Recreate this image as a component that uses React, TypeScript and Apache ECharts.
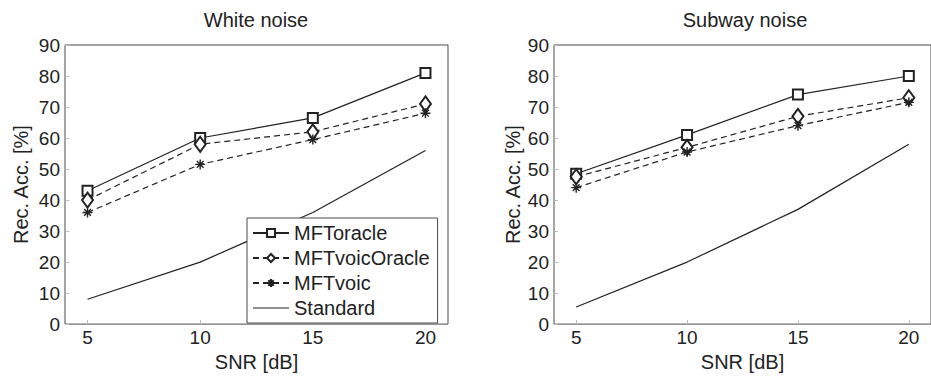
import React, { useEffect, useRef } from "react";
import * as echarts from "echarts";

// SNR levels on the x axis
const snr = [5, 10, 15, 20];
const xTicks = [5, 10, 15, 20];

// Recognition accuracy [%] — white noise
const whiteOracle = [43, 60, 66.5, 81];
const whiteVoicOracle = [40, 58, 62, 71];
const whiteVoic = [36, 51.5, 59.5, 68];
const whiteStandard = [8, 20, 36, 56];

// Recognition accuracy [%] — subway noise
const subwayOracle = [48.5, 61, 74, 80];
const subwayVoicOracle = [47.5, 57, 67, 73];
const subwayVoic = [44, 55.5, 64, 71.5];
const subwayStandard = [5.5, 20, 37, 58];

const panelTitles = ["White noise", "Subway noise"];
const seriesNames = ["MFToracle", "MFTvoicOracle", "MFTvoic", "Standard"];

const INK = "#222";
const FRAME = "#4a4a4a";
const FONT = "Liberation Sans, Arial, Helvetica, sans-serif";
const ASTERISK = "path://M5 0L5 10M0 5L10 5M1.6 1.6L8.4 8.4M8.4 1.6L1.6 8.4";
// plain line sample for the marker-less series in the legend
const PLAIN_LINE = "path://M0 0L36 0L36 1.2L0 1.2Z";

function pairs(values: number[]) {
  return snr.map((x, i) => [x, values[i]]);
}

function panelSeries(idx: number, oracle: number[], voicOracle: number[], voic: number[], standard: number[]) {
  const common = {
    type: "line" as const,
    xAxisIndex: idx,
    yAxisIndex: idx,
    showSymbol: true,
  };
  return [
    {
      ...common,
      name: seriesNames[0],
      data: pairs(oracle),
      symbol: "emptyRect",
      symbolSize: 10,
      lineStyle: { color: INK, width: 1.2, type: "solid" },
      itemStyle: { color: INK, borderColor: INK, borderWidth: 1 },
    },
    {
      ...common,
      name: seriesNames[1],
      data: pairs(voicOracle),
      symbol: "emptyDiamond",
      symbolSize: [11, 15],
      lineStyle: { color: INK, width: 1.2, type: [6, 4] },
      itemStyle: { color: INK, borderColor: INK, borderWidth: 1 },
    },
    {
      ...common,
      name: seriesNames[2],
      data: pairs(voic),
      symbol: ASTERISK,
      symbolSize: 10,
      lineStyle: { color: INK, width: 1.2, type: [6, 4] },
      itemStyle: { color: INK, borderColor: INK, borderWidth: 1.4 },
    },
    {
      ...common,
      name: seriesNames[3],
      data: pairs(standard),
      symbol: "none",
      lineStyle: { color: INK, width: 1.2, type: "solid" },
      itemStyle: { color: INK },
    },
  ];
}

function xAxis(idx: number) {
  return {
    type: "value" as const,
    gridIndex: idx,
    min: 4,
    max: 21,
    name: "SNR [dB]",
    nameLocation: "middle" as const,
    nameGap: 27,
    nameTextStyle: { color: INK, fontSize: 20, fontFamily: FONT },
    axisLine: { show: false },
    axisTick: { show: true, inside: true, length: 4, customValues: xTicks, lineStyle: { color: "#bbb" } },
    axisLabel: { customValues: xTicks, color: INK, fontSize: 19, fontFamily: FONT, margin: 4 },
    splitLine: { show: false },
  };
}

function yAxis(idx: number, gap: number) {
  return {
    type: "value" as const,
    gridIndex: idx,
    min: 0,
    max: 90,
    interval: 10,
    name: "Rec. Acc. [%]",
    nameLocation: "middle" as const,
    nameGap: gap,
    nameTextStyle: { color: INK, fontSize: 20, fontFamily: FONT },
    axisLine: { show: false },
    axisTick: { show: true, inside: true, length: 4, lineStyle: { color: "#bbb" } },
    axisLabel: { color: INK, fontSize: 19, fontFamily: FONT, margin: 5 },
    splitLine: { show: false },
  };
}

export default function App() {
  const ref = useRef<HTMLDivElement>(null);

  useEffect(() => {
    if (!ref.current) return;
    const chart = echarts.init(ref.current, undefined, { renderer: "svg" });
    chart.setOption({
      animation: false,
      backgroundColor: "#fff",
      title: [
        {
          text: panelTitles[0],
          left: 256,
          top: 10,
          padding: 0,
          textAlign: "center",
          textStyle: { color: INK, fontSize: 20, fontWeight: "normal", fontFamily: FONT },
        },
        {
          text: panelTitles[1],
          left: 745,
          top: 10,
          padding: 0,
          textAlign: "center",
          textStyle: { color: INK, fontSize: 20, fontWeight: "normal", fontFamily: FONT },
        },
      ],
      grid: [
        { left: 65, right: 483, top: 45, bottom: 47, show: true, borderColor: FRAME, borderWidth: 1, backgroundColor: "transparent" },
        { left: 554, right: -5, top: 45, bottom: 47, show: true, borderColor: FRAME, borderWidth: 1, backgroundColor: "transparent" },
      ],
      xAxis: [xAxis(0), xAxis(1)],
      yAxis: [yAxis(0, 34), yAxis(1, 31)],
      legend: {
        data: [
          seriesNames[0],
          seriesNames[1],
          seriesNames[2],
          { name: seriesNames[3], icon: PLAIN_LINE, itemStyle: { color: INK, borderWidth: 0 } },
        ],
        orient: "vertical",
        left: 247,
        top: 218,
        padding: [5, 8, 5, 5],
        itemGap: 5,
        itemWidth: 36,
        itemHeight: 10,
        backgroundColor: "#fff",
        borderColor: FRAME,
        borderWidth: 1,
        borderRadius: 0,
        textStyle: { color: INK, fontSize: 20, fontFamily: FONT },
      },
      series: [
        ...panelSeries(0, whiteOracle, whiteVoicOracle, whiteVoic, whiteStandard),
        ...panelSeries(1, subwayOracle, subwayVoicOracle, subwayVoic, subwayStandard),
      ],
    });
    return () => chart.dispose();
  }, []);

  return <div ref={ref} style={{ width: 931, height: 377, position: "absolute", left: 0, top: 0 }} />;
}
